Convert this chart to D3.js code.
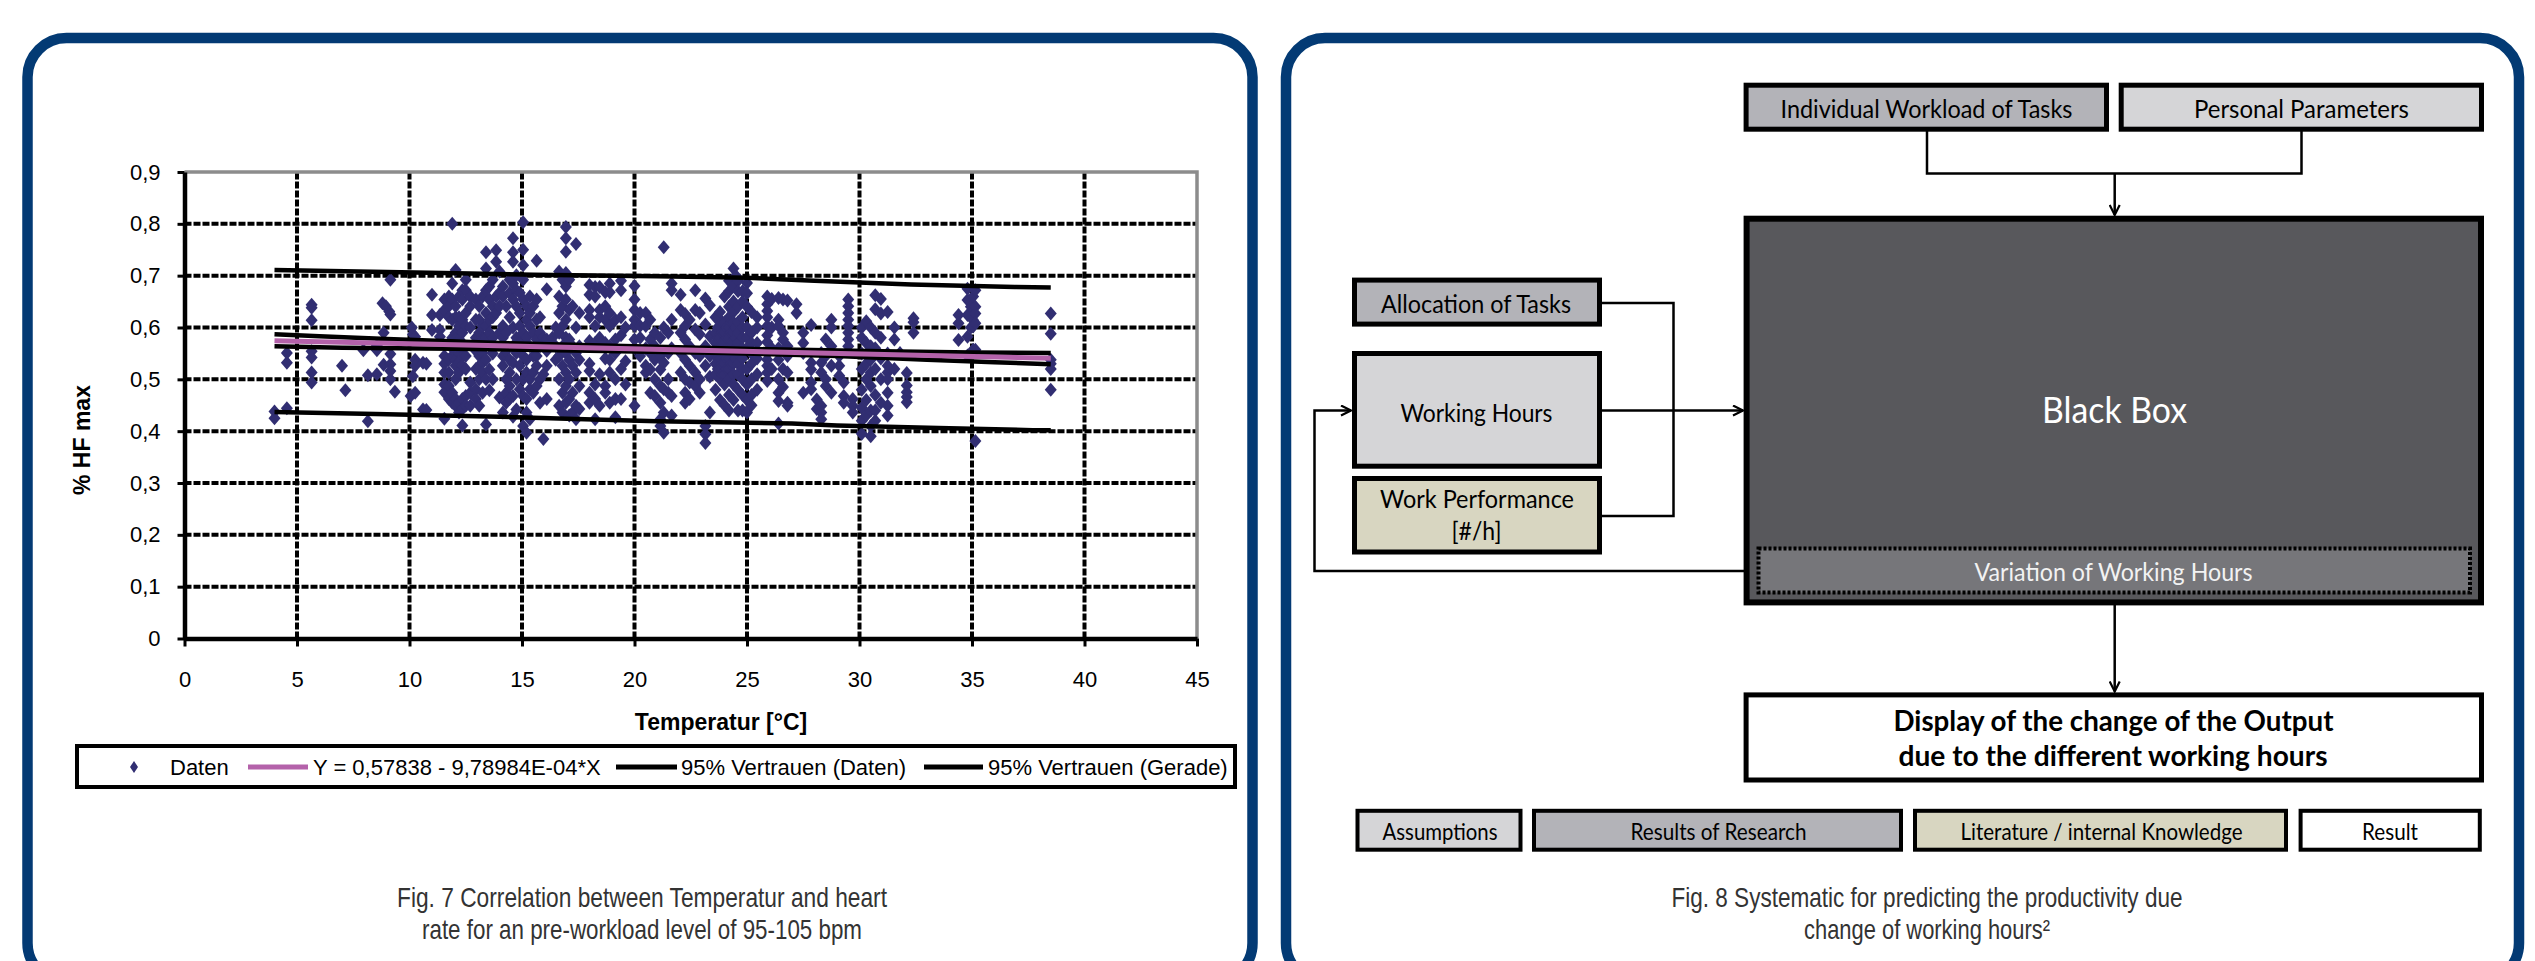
<!DOCTYPE html>
<html><head><meta charset="utf-8">
<script src="https://cdn.jsdelivr.net/npm/d3@7"></script>
<style>body{margin:0;background:#fff}svg{display:block}</style>
</head><body>
<svg id="c" width="2535" height="961"></svg>
<script>
// ---------------- DATA ----------------
const xTicks = [0,5,10,15,20,25,30,35,40,45];
const yTicks = [0,0.1,0.2,0.3,0.4,0.5,0.6,0.7,0.8,0.9];
const yTickLabels = ["0","0,1","0,2","0,3","0,4","0,5","0,6","0,7","0,8","0,9"];
const xTitle = "Temperatur [°C]";
const yTitle = "% HF max";
const legendLabels = ["Daten","Y = 0,57838 - 9,78984E-04*X","95% Vertrauen (Daten)","95% Vertrauen (Gerade)"];
const fitIntercept = 0.57838, fitSlope = -9.78984e-4, fitRange = [4, 38.5];

// scatter: [temperature, [values...]]
const datenA = [[4.0,[0.438,0.425]],[4.55,[0.551,0.532,0.444]],[5.65,[0.644,0.638,0.614,0.554,0.542,0.513,0.494]],
[7.0,[0.526]],[7.15,[0.479]],[7.95,[0.556]],[8.15,[0.508,0.419]],[8.55,[0.565,0.556,0.51]],[8.8,[0.647]],
[8.85,[0.59,0.528]],[8.95,[0.641]],[9.1,[0.631]],[9.15,[0.692,0.625,0.549,0.529,0.516,0.5]],[9.35,[0.476]],
[10.1,[0.6]],[10.15,[0.587,0.506]],[10.05,[0.468]],[10.25,[0.582,0.538,0.526,0.474]],[10.6,[0.532,0.442]]];
const datenB = [[10.75,[0.53,0.441]],[11.0,[0.663,0.624,0.595]],[11.35,[0.624,0.595,0.582]],
[11.55,[0.654,0.634,0.545,0.53,0.513,0.49,0.475,0.424]],[11.75,[0.66,0.641,0.62,0.538,0.513,0.487,0.462]],
[11.9,[0.8,0.685,0.654,0.615,0.58,0.56,0.545,0.474,0.455]],
[12.05,[0.711,0.641,0.62,0.59,0.577,0.564,0.551,0.538,0.526,0.5,0.462,0.449]],
[12.2,[0.66,0.62,0.603,0.577,0.564,0.551,0.532,0.513,0.455,0.436]],
[12.35,[0.672,0.654,0.615,0.59,0.57,0.545,0.526,0.462,0.443,0.411]],
[12.5,[0.692,0.672,0.628,0.603,0.545,0.52,0.468,0.449]],[12.7,[0.66,0.641,0.6,0.494,0.474,0.449]],
[12.95,[0.654,0.615,0.58,0.555,0.52,0.481,0.462]],[13.1,[0.641,0.615,0.59,0.564,0.545,0.526,0.5,0.449]],
[13.25,[0.66,0.603,0.577,0.551,0.532,0.513,0.474]],[13.4,[0.745,0.714,0.672,0.628,0.603,0.58,0.538,0.5,0.413]],
[13.55,[0.679,0.654,0.615,0.59,0.564,0.519,0.479]],[13.7,[0.692,0.641,0.62,0.58,0.55,0.5]],
[13.85,[0.749,0.727,0.66,0.628]],[14.0,[0.708,0.667,0.641,0.59,0.465]],
[14.15,[0.679,0.66,0.603,0.58,0.545,0.526,0.436]],[14.3,[0.641,0.59,0.555,0.5,0.474,0.455]],
[14.45,[0.692,0.667,0.62,0.538,0.513,0.487,0.462]],[14.6,[0.772,0.745,0.727,0.685,0.654,0.6,0.564,0.532,0.468,0.428]],
[14.75,[0.701,0.672,0.641,0.58,0.551,0.5,0.442]],[14.9,[0.667,0.628,0.603,0.57,0.526,0.481]],
[15.05,[0.803,0.75,0.72,0.692,0.654,0.59,0.545,0.5,0.468,0.41]],[15.2,[0.641,0.615,0.58,0.538,0.513,0.462,0.436,0.397]],
[15.35,[0.66,0.628,0.603,0.564,0.5,0.481,0.423]],[15.5,[0.641,0.59,0.545,0.513,0.474]],
[15.65,[0.729,0.654,0.615,0.577,0.545,0.526,0.487]],[15.8,[0.62,0.59,0.564,0.5,0.455]],
[15.95,[0.58,0.51,0.385]],[16.1,[0.674,0.577,0.555,0.526,0.462]],[16.35,[0.58]],[16.5,[0.6,0.564,0.538]],
[16.65,[0.708,0.66,0.628,0.59,0.545,0.5,0.449]],[16.8,[0.692,0.641,0.603,0.564,0.526,0.474,0.436]],
[16.95,[0.794,0.772,0.746,0.705,0.679,0.654,0.615,0.58,0.551,0.513,0.487,0.455]],
[17.1,[0.692,0.634,0.577,0.538,0.5,0.462,0.43]],[17.25,[0.641,0.564,0.526,0.474,0.436]],
[17.4,[0.761,0.6,0.551,0.513,0.449,0.423]],[17.55,[0.628,0.564,0.538,0.487,0.443]]];
const datenC = [[18.0,[0.682,0.663,0.634,0.62,0.574,0.53,0.516,0.474,0.455]],[18.25,[0.678,0.66,0.603,0.57,0.49,0.462,0.423]],
[18.45,[0.678,0.634,0.62,0.58,0.51,0.449]],[18.7,[0.668,0.641,0.615,0.57,0.54,0.487,0.474]],
[18.9,[0.685,0.668,0.628,0.603,0.564,0.538,0.513,0.455]],[19.15,[0.615,0.577,0.551,0.5,0.462,0.427]],
[19.4,[0.69,0.672,0.62,0.585,0.52,0.462]],[19.6,[0.6,0.535,0.49]],
[20.0,[0.68,0.654,0.634,0.615,0.603,0.577,0.56,0.449]],[20.25,[0.628,0.603,0.58,0.545]],
[20.5,[0.628,0.603,0.56,0.526,0.513]],[20.7,[0.615,0.577,0.551,0.519,0.474]],[20.9,[0.59,0.564,0.538,0.5,0.468]],
[21.15,[0.58,0.545,0.519,0.487,0.455,0.423,0.41]],[21.3,[0.755,0.6,0.532,0.481,0.436,0.397]],
[21.5,[0.59,0.551,0.5,0.474]],[21.65,[0.685,0.672,0.615,0.56,0.468,0.43]],[22.05,[0.663,0.634,0.59,0.551,0.513]],
[22.25,[0.626,0.603,0.577,0.538,0.5,0.474,0.455]],[22.45,[0.615,0.564,0.526,0.494,0.462]],
[22.7,[0.672,0.634,0.596,0.551,0.513,0.487]],[22.9,[0.628,0.587,0.545,0.5,0.474]],
[23.15,[0.656,0.606,0.564,0.526,0.41,0.394,0.377]],[23.35,[0.643,0.583,0.545,0.505,0.436]],
[23.6,[0.62,0.59,0.57,0.55,0.53,0.51,0.48]],[23.7,[0.6,0.58,0.56,0.54,0.52]],
[23.8,[0.63,0.6,0.58,0.56,0.54,0.52,0.5,0.46]],[23.9,[0.61,0.59,0.57,0.55,0.53,0.51]],
[24.0,[0.66,0.61,0.59,0.57,0.55,0.53,0.51,0.49,0.45]],[24.1,[0.6,0.58,0.56,0.54,0.52]],
[24.2,[0.69,0.67,0.64,0.62,0.6,0.58,0.56,0.54,0.52,0.5,0.47,0.44]],[24.3,[0.61,0.59,0.57,0.55,0.53]],
[24.4,[0.714,0.68,0.65,0.63,0.61,0.59,0.57,0.55,0.53,0.51,0.49,0.46]],[24.5,[0.7,0.6,0.58,0.56,0.54]],
[24.6,[0.69,0.67,0.64,0.61,0.59,0.57,0.55,0.53,0.51,0.48,0.44]],
[24.8,[0.67,0.65,0.62,0.6,0.58,0.56,0.54,0.52,0.5,0.47,0.44]]];
const datenD = [[25.0,[0.686,0.666,0.64,0.6,0.58,0.56,0.52,0.49,0.46,0.436]],[25.2,[0.63,0.59,0.57,0.55,0.53,0.5,0.47,0.45]],
[25.45,[0.62,0.6,0.57,0.54,0.51,0.48]],[25.9,[0.66,0.645,0.632,0.62,0.603,0.585,0.572,0.55,0.538,0.526,0.513,0.497]],
[26.1,[0.655,0.6,0.56,0.52]],[26.4,[0.657,0.615,0.603,0.56,0.538,0.5,0.474,0.458,0.415]],
[26.6,[0.654,0.59,0.577,0.52,0.485]],[26.8,[0.652,0.564,0.545,0.513,0.455,0.449]],[27.2,[0.645,0.628]],
[27.5,[0.59,0.57,0.551,0.474]],[27.85,[0.605,0.532,0.519,0.494,0.481]],[28.1,[0.461,0.443]],
[28.3,[0.551,0.532,0.513,0.449,0.436,0.423]],[28.5,[0.577,0.545,0.5,0.487]],[28.75,[0.615,0.6,0.564,0.526,0.474]],
[29.1,[0.545,0.526,0.507]],[29.3,[0.494,0.468,0.455]],[29.5,[0.654,0.641,0.628,0.615,0.603,0.59,0.577,0.564]],
[29.7,[0.462,0.449,0.436]],[30.1,[0.6,0.58,0.55,0.52,0.48,0.445,0.42,0.395]],[30.3,[0.612,0.57,0.53,0.5,0.46,0.43]],
[30.5,[0.6,0.564,0.538,0.513,0.487,0.44,0.41,0.39]],[30.7,[0.662,0.635,0.59,0.56,0.52,0.47,0.44,0.42]],
[30.95,[0.655,0.627,0.58,0.54,0.5,0.455]],[31.25,[0.63,0.55,0.526,0.513,0.5,0.474,0.449,0.43]],
[31.55,[0.6,0.577,0.52]],[31.8,[0.551]]];
const datenE = [[32.1,[0.512,0.488,0.475,0.466,0.456]],[32.4,[0.618,0.61,0.59]],[34.4,[0.624,0.608,0.576]],
[34.8,[0.675,0.653,0.624,0.582,0.546]],[34.95,[0.64,0.6]],[35.05,[0.66,0.614,0.602,0.557]],
[35.15,[0.672,0.64,0.627,0.608,0.557,0.381]],[38.5,[0.627,0.588,0.538,0.53,0.52,0.48]]];

// 95% bands: [temperature, value]
const bandDatenUpper = [[4,0.711],[6.5,0.709],[11.5,0.705],[15.5,0.702],[21,0.699],[25,0.696],[28,0.690],[32.3,0.683],[36.9,0.678],[38.5,0.677]];
const bandDatenLower = [[4,0.437],[8.5,0.433],[14,0.428],[17,0.424],[21,0.419],[27,0.415],[29,0.411],[33.5,0.406],[37.7,0.402],[38.5,0.402]];
const bandGeradeUpper = [[4,0.587],[6,0.583],[9,0.578],[14,0.570],[20,0.564],[26,0.558],[31,0.554],[35,0.552],[38.5,0.551]];
const bandGeradeLower = [[4,0.564],[7,0.561],[12,0.559],[18,0.555],[24,0.551],[29,0.545],[33,0.538],[36,0.533],[38.5,0.529]];

const caption7 = ["Fig. 7 Correlation between Temperatur and heart","rate for an pre-workload level of 95-105 bpm"];
const caption8 = ["Fig. 8 Systematic for predicting the productivity due","change of working hours²"];

// diagram labels
const diagramLabels = {
  iw:"Individual Workload of Tasks", pp:"Personal Parameters", alloc:"Allocation of Tasks",
  wh:"Working Hours", wp:["Work Performance","[#/h]"], bb:"Black Box", vw:"Variation of Working Hours",
  disp:["Display of the change of the Output","due to the different working hours"]
};
const legendKeys = ["Assumptions","Results of Research","Literature / internal Knowledge","Result"];

// ---------------- DRAW ----------------
const svg = d3.select("#c");
const NAVY = "#033a74";
const AR = "'Liberation Sans', Arial, sans-serif";
const CAL = "Lato, 'Open Sans', sans-serif";

// panels
svg.append("rect").attr("x",27.5).attr("y",38).attr("width",1225).attr("height",944).attr("rx",39)
  .attr("fill","#fff").attr("stroke",NAVY).attr("stroke-width",10.5);
svg.append("rect").attr("x",1286).attr("y",38).attr("width",1233).attr("height",944).attr("rx",39)
  .attr("fill","#fff").attr("stroke",NAVY).attr("stroke-width",10.5);

// ===== chart =====
const x = d3.scaleLinear().domain([0,45]).range([184.5,1197]);
const y = d3.scaleLinear().domain([0,0.9]).range([638.5,172]);
const g = svg.append("g");

// grid
g.selectAll(".hg").data(yTicks.filter(v=>v>0 && v<0.9)).join("line")
  .attr("x1",x(0)).attr("x2",x(45)).attr("y1",d=>y(d)).attr("y2",d=>y(d))
  .attr("stroke","#000").attr("stroke-width",4).attr("stroke-dasharray","7,2");
g.selectAll(".vg").data(xTicks.filter(v=>v>0 && v<45)).join("line")
  .attr("x1",d=>x(d)).attr("x2",d=>x(d)).attr("y1",y(0)).attr("y2",y(0.9))
  .attr("stroke","#000").attr("stroke-width",4).attr("stroke-dasharray","7,2");
// gray frame top/right
g.append("path").attr("d",`M${x(0)},${y(0.9)}H${x(45)}V${y(0)}`).attr("fill","none")
  .attr("stroke","#8c8c8c").attr("stroke-width",3.5);

// points
const pts = [];
[datenA,datenB,datenC,datenD,datenE].forEach(arr=>arr.forEach(([t,vs])=>vs.forEach(v=>pts.push([t,v]))));
const diamond = "M0,-7L6,0L0,7L-6,0Z";
g.selectAll(".pt").data(pts).join("path").attr("d",diamond)
  .attr("transform",d=>`translate(${x(d[0])},${y(d[1])})`).attr("fill","#312e72");

// lines
const line = d3.line().x(d=>x(d[0])).y(d=>y(d[1]));
[bandDatenUpper,bandDatenLower,bandGeradeUpper,bandGeradeLower].forEach(b=>{
  g.append("path").attr("d",line(b)).attr("fill","none").attr("stroke","#000").attr("stroke-width",4.5);
});
const fitPts = fitRange.map(t=>[t, fitIntercept + fitSlope*t]);
g.append("path").attr("d",line(fitPts)).attr("fill","none").attr("stroke","#b462aa").attr("stroke-width",5);

// axes
const ax = g.append("g").attr("transform",`translate(0,${y(0)})`)
  .call(d3.axisBottom(x).tickValues(xTicks).tickSize(8).tickSizeOuter(0).tickPadding(25).tickFormat(d=>d));
const ay = g.append("g").attr("transform",`translate(${x(0)},0)`)
  .call(d3.axisLeft(y).tickValues(yTicks).tickSize(7).tickSizeOuter(0).tickPadding(17).tickFormat((d,i)=>yTickLabels[i]));
[ax,ay].forEach(a=>{
  a.select(".domain").attr("stroke","#000").attr("stroke-width",4.5);
  a.selectAll(".tick line").attr("stroke","#000").attr("stroke-width",3);
  a.selectAll("text").attr("font-family",AR).attr("font-size",22).attr("fill","#000");
});
ax.selectAll("text").attr("dy",0).attr("y",687-638.5);

// titles
g.append("text").attr("x",721).attr("y",730).attr("text-anchor","middle").attr("font-family",AR)
  .attr("font-weight","bold").attr("font-size",23).text(xTitle);
g.append("text").attr("transform","translate(90,440) rotate(-90)").attr("text-anchor","middle").attr("font-family",AR)
  .attr("font-weight","bold").attr("font-size",23).text(yTitle);

// legend
const lg = g.append("g");
lg.append("rect").attr("x",77).attr("y",746).attr("width",1158).attr("height",41)
  .attr("fill","#fff").attr("stroke","#000").attr("stroke-width",4);
const ly = 767;
lg.append("path").attr("d","M0,-6L4,0L0,6L-4,0Z").attr("transform",`translate(134,${ly})`).attr("fill","#312e72");
const legText = [[170,0],[313,1],[681,2],[988,3]];
legText.forEach(([lx,i])=>lg.append("text").attr("x",lx).attr("y",ly+8).attr("font-family",AR)
  .attr("font-size",22).text(legendLabels[i]));
lg.append("line").attr("x1",248).attr("x2",308).attr("y1",ly).attr("y2",ly).attr("stroke","#b462aa").attr("stroke-width",5);
lg.append("line").attr("x1",616).attr("x2",677).attr("y1",ly).attr("y2",ly).attr("stroke","#000").attr("stroke-width",5);
lg.append("line").attr("x1",924).attr("x2",983).attr("y1",ly).attr("y2",ly).attr("stroke","#000").attr("stroke-width",5);

// captions (narrow)
const capLens7 = [490,440], capLens8 = [511,246];
caption7.forEach((t,i)=>svg.append("text").attr("x",642).attr("y",907+i*32).attr("text-anchor","middle")
  .attr("font-family",AR).attr("font-size",28).attr("fill","#333")
  .attr("textLength",capLens7[i]).attr("lengthAdjust","spacingAndGlyphs").text(t));
caption8.forEach((t,i)=>svg.append("text").attr("x",1927).attr("y",906.5+i*32).attr("text-anchor","middle")
  .attr("font-family",AR).attr("font-size",28).attr("fill","#333")
  .attr("textLength",capLens8[i]).attr("lengthAdjust","spacingAndGlyphs").text(t));

// ===== diagram =====
const dg = svg.append("g");
const defs = svg.append("defs");
defs.append("marker").attr("id","arr").attr("viewBox","0 0 12 12").attr("refX",11).attr("refY",6)
  .attr("markerWidth",12).attr("markerHeight",12).attr("markerUnits","userSpaceOnUse").attr("orient","auto")
  .append("path").attr("d","M1,1L11,6L1,11").attr("fill","none").attr("stroke","#000").attr("stroke-width",2.2);

function box(x0,y0,x1,y1,fill,sw){
  dg.append("rect").attr("x",x0+sw/2).attr("y",y0+sw/2).attr("width",x1-x0-sw).attr("height",y1-y0-sw)
    .attr("fill",fill).attr("stroke","#000").attr("stroke-width",sw);
}
function label(txt,cx,base,size,len,opts={}){
  dg.append("text").attr("x",cx).attr("y",base).attr("text-anchor","middle").attr("font-family",CAL)
    .attr("font-size",size).attr("font-weight",opts.bold?"bold":"normal").attr("fill",opts.fill||"#000")
    .attr("textLength",len).attr("lengthAdjust","spacingAndGlyphs").text(txt);
}
const C_RES="#b3b3b8", C_ASS="#d5d5d7", C_LIT="#d8d6c1";

// connectors (drawn first)
const conn = (d,arrow)=>{const p=dg.append("path").attr("d",d).attr("fill","none").attr("stroke","#000").attr("stroke-width",2.5);
  if(arrow) p.attr("marker-end","url(#arr)");};
conn("M1927,131V173.5H2301.5V131");
conn("M2114.7,173.5V215",true);
conn("M1602,303H1673.5V516H1602");
conn("M1602,410.5H1743",true);
conn("M1757,571H1314.5V410.5H1351",true);
conn("M2114.7,605V691.5",true);

box(1743.6,82.7,2109,131.7,C_RES,5);
box(2118.7,82.7,2484,131.7,C_ASS,5);
label(diagramLabels.iw,1926.5,117.5,25.5,292);
label(diagramLabels.pp,2301.5,117.5,25.5,215);

box(1743.6,215.7,2484,605.4,"#58585c",6);
dg.append("rect").attr("x",1758.5).attr("y",548.5).attr("width",711.5).attr("height",44)
  .attr("fill","#76767a").attr("stroke","#000").attr("stroke-width",4).attr("stroke-dasharray","3,2");
label(diagramLabels.bb,2114.5,422.5,36,145,{fill:"#fff"});
label(diagramLabels.vw,2113.5,581,25.5,278,{fill:"#f2f2f2"});

box(1352,277.6,1602,326.6,C_RES,5);
box(1352,351,1602,468.7,C_ASS,5);
box(1352,476,1602,554.5,C_LIT,5);
label(diagramLabels.alloc,1476,312.5,25.5,190);
label(diagramLabels.wh,1476.5,421.5,25.5,152);
label(diagramLabels.wp[0],1477,508,25.5,194);
label(diagramLabels.wp[1],1476.5,540,25.5,50);

box(1743.6,692.4,2484,782.5,"#fff",5);
label(diagramLabels.disp[0],2113.5,730.5,29,440,{bold:true});
label(diagramLabels.disp[1],2113,766,29,429,{bold:true});

const legBoxes = [[1355.5,1522.5,C_ASS,1440,115],[1532,1903,C_RES,1718.5,176],[1913,2288,C_LIT,2101.5,282],[2298.6,2481.8,"#fff",2390,56]];
legBoxes.forEach(([a,b,f,cx,len],i)=>{box(a,808.8,b,851.7,f,4); label(legendKeys[i],cx,839.5,23,len);});
</script>
</body></html>
